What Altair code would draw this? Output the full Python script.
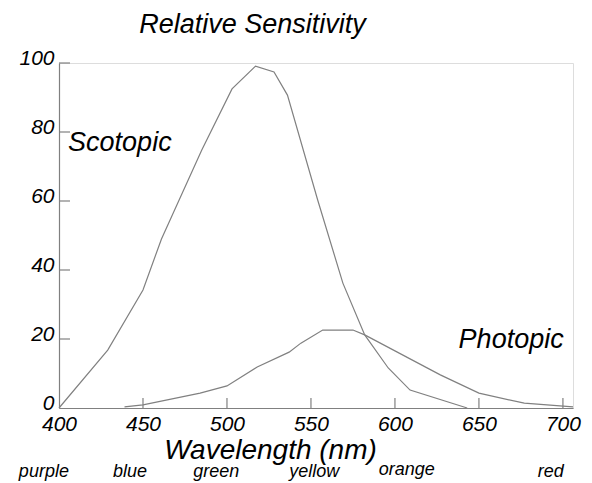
import altair as alt
import pandas as pd

# Scotopic curve (wavelength nm, relative sensitivity)
scot_wl = [400, 429, 450, 461, 467, 485, 503, 517, 528, 536, 554, 569, 582, 596, 609, 643]
scot_val = [0, 16.8, 34.2, 49.0, 55.4, 74.8, 92.5, 99.1, 97.4, 90.7, 60.3, 36.2, 21.2, 11.6, 5.2, 0]

# Photopic curve
phot_wl = [439, 450, 484, 500, 518, 537, 544, 557, 575, 582, 627, 650, 677, 706]
phot_val = [0.3, 0.9, 4.3, 6.4, 11.9, 16.2, 18.8, 22.6, 22.6, 21.2, 9.6, 4.3, 1.4, 0.3]

# Axis ticks
x_ticks = [400, 450, 500, 550, 600, 650, 700]
y_ticks = [0, 20, 40, 60, 80, 100]

# Curve names
curve_names = ["Scotopic", "Photopic"]
curve_x = [405.4, 637.9]
curve_y = [74.5, 17.4]

# Colour names under the wavelength axis
color_names = ["purple", "blue", "green", "yellow", "orange", "red"]
color_x = [391, 442.3, 493.6, 552, 607, 692.8]
color_y = [-20.0, -20.0, -20.0, -20.0, -19.4, -20.0]

FONT = "Liberation Sans"
GRAY = "#808080"
W, H = 514, 345

xs = alt.Scale(domain=[400, 706], nice=False, zero=False)
ys = alt.Scale(domain=[0, 100], nice=False)

scot = pd.DataFrame({"wl": scot_wl, "val": scot_val})
phot = pd.DataFrame({"wl": phot_wl, "val": phot_val})

x_axis = alt.Axis(
    values=x_ticks, format="d", ticks=False, grid=False,
    domainColor=GRAY, domainWidth=1.2,
    labelFont=FONT, labelFontSize=21, labelFontStyle="italic", labelColor="black",
    labelPadding=5, labelFlush=False,
    title="Wavelength (nm)", titleFont=FONT, titleFontSize=28, titleFontStyle="italic",
    titleFontWeight="normal", titleColor="black",
    titleX=211, titleY=50, titleAlign="center", titleBaseline="alphabetic", titleAnchor="start",
)
y_axis = alt.Axis(
    values=y_ticks, ticks=False, grid=False,
    domainColor=GRAY, domainWidth=1.2,
    labelFont=FONT, labelFontSize=21, labelFontStyle="italic", labelColor="black",
    labelPadding=5, labelBaseline="alphabetic", labelOffset=1, labelFlush=False,
    title="Relative Sensitivity", titleFont=FONT, titleFontSize=27, titleFontStyle="italic",
    titleFontWeight="normal", titleColor="black", titleAngle=0,
    titleX=193, titleY=-31, titleAlign="center", titleBaseline="alphabetic", titleAnchor="start",
)

line_s = alt.Chart(scot).mark_line(color=GRAY, strokeWidth=1.2).encode(
    x=alt.X("wl:Q", scale=xs, axis=x_axis),
    y=alt.Y("val:Q", scale=ys, axis=y_axis),
)
line_p = alt.Chart(phot).mark_line(color=GRAY, strokeWidth=1.2).encode(
    x=alt.X("wl:Q", scale=xs),
    y=alt.Y("val:Q", scale=ys),
)

xt = pd.DataFrame({"t": x_ticks[1:]})
x_tick_marks = alt.Chart(xt).mark_rule(color=GRAY, strokeWidth=1.2).encode(
    x=alt.X("t:Q", scale=xs), y=alt.value(H), y2=alt.value(H - 10)
)
yt = pd.DataFrame({"t": y_ticks[1:]})
y_tick_marks = alt.Chart(yt).mark_rule(color=GRAY, strokeWidth=1.2).encode(
    y=alt.Y("t:Q", scale=ys), x=alt.value(0), x2=alt.value(11)
)

names = pd.DataFrame({"n": curve_names, "x": curve_x, "y": curve_y})
name_text = alt.Chart(names).mark_text(
    font=FONT, fontSize=27, fontStyle="italic", align="left", baseline="alphabetic", color="black"
).encode(x=alt.X("x:Q", scale=xs), y=alt.Y("y:Q", scale=ys), text="n:N")

cols = pd.DataFrame({"n": color_names, "x": color_x, "y": color_y})
col_text = alt.Chart(cols).mark_text(
    font=FONT, fontSize=18, fontStyle="italic", align="center", baseline="alphabetic", color="black"
).encode(x=alt.X("x:Q", scale=xs), y=alt.Y("y:Q", scale=ys), text="n:N")

chart = alt.layer(line_s, line_p, x_tick_marks, y_tick_marks, name_text, col_text).properties(
    width=W, height=H,
    autosize=alt.AutoSizeParams(type="none"),
    padding={"left": 51, "top": 55, "right": 11, "bottom": 75},
).configure_view(stroke=None).configure(background="white")

chart.save("out.html", embed_options={"renderer": "svg", "actions": False})
